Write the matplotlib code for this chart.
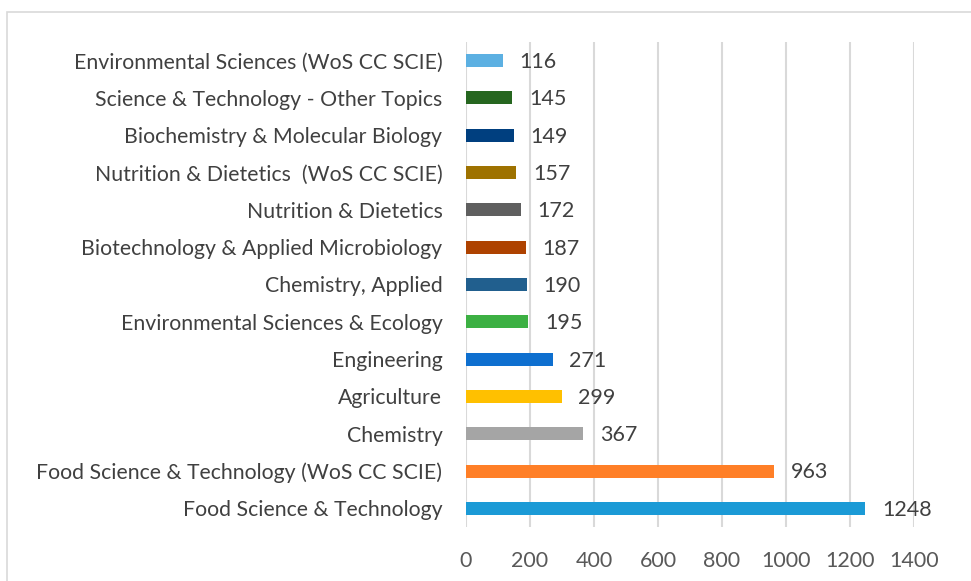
import matplotlib.pyplot as plt
from matplotlib.patches import Rectangle

categories = [
    "Food Science & Technology",
    "Food Science & Technology (WoS CC SCIE)",
    "Chemistry",
    "Agriculture",
    "Engineering",
    "Environmental Sciences & Ecology",
    "Chemistry, Applied",
    "Biotechnology & Applied Microbiology",
    "Nutrition & Dietetics",
    "Nutrition & Dietetics  (WoS CC SCIE)",
    "Biochemistry & Molecular Biology",
    "Science & Technology - Other Topics",
    "Environmental Sciences (WoS CC SCIE)",
]
counts = [1248, 963, 367, 299, 271, 195, 190, 187, 172, 157, 149, 145, 116]
bar_colors = [
    "#1B9AD6", "#FF7F27", "#A5A5A5", "#FFC000", "#0E6FCF", "#3CB043",
    "#215F8E", "#AE4200", "#5F5F5F", "#9E7200", "#003F7F", "#26661F", "#5CB0E2",
]
x_ticks = [0, 200, 400, 600, 800, 1000, 1200, 1400]

plt.rcParams["font.family"] = ["Lato", "DejaVu Sans"]

fig = plt.figure(figsize=(9.71, 5.81), dpi=100)
fig.patches.append(Rectangle((7 / 971, -0.1), 1.2, 1 - 12 / 581 + 0.1,
                             transform=fig.transFigure, fill=False,
                             edgecolor="#D9D9D9", linewidth=1.2))
ax = fig.add_axes([466 / 971, 1 - 527 / 581, 448 / 971, (527 - 42) / 581])

y = range(len(categories))
ax.barh(y, counts, height=0.35, color=bar_colors, zorder=3)
for yi, v in zip(y, counts):
    ax.annotate(str(v), (v, yi), xytext=(12, -1), textcoords="offset points",
                ha="left", va="center", fontsize=15.5, color="#404040")

ax.set_xlim(0, 1400)
ax.set_ylim(-0.5, len(categories) - 0.5)
ax.set_xticks(x_ticks)
ax.set_xticklabels([str(t) for t in x_ticks], fontsize=15.5, color="#595959")
ax.set_yticks(list(y))
ax.set_yticklabels(categories, fontsize=15.3, color="#404040")
ax.tick_params(length=0)
ax.tick_params(axis="x", pad=17)
ax.tick_params(axis="y", pad=17)
ax.grid(axis="x", color="#D9D9D9", linewidth=1.5, zorder=0)
for s in ax.spines.values():
    s.set_visible(False)

fig.savefig("out.png", dpi=100)
